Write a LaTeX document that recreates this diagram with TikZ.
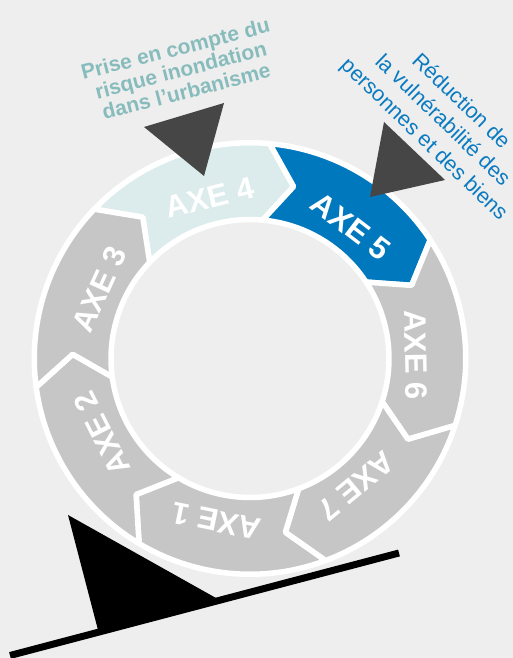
\documentclass[tikz,border=0pt]{standalone}
\usepackage{fontspec}
\setmainfont{Liberation Sans}
\usetikzlibrary{calc}
\definecolor{bgGray}{HTML}{EEEEEE}
\definecolor{segGray}{HTML}{C6C6C6}
\definecolor{segLight}{HTML}{DCEBEB}
\definecolor{segBlue}{HTML}{0078BE}
\definecolor{triDark}{HTML}{464646}
\definecolor{txtTeal}{HTML}{88BCBC}
\definecolor{txtBlue}{HTML}{0A7BC1}
\begin{document}
\begin{tikzpicture}[x=1pt,y=1pt,
  segment/.style={draw=white, line width=5.5pt, line join=round},
  axelabel/.style={text=white, font=\fontsize{31}{31}\selectfont\bfseries, inner sep=0pt},
  pointer/.style={fill=triDark},
]
\fill[bgGray] (0,0) rectangle (513,658);
\useasboundingbox (0,0) rectangle (513,658);
\coordinate (C) at (250,299.5);
\def\Ro{215.75}
\def\Ri{139}
\def\Rm{177.4}
\def\dl{9}
\foreach \j/\col in {0/segLight, 1/segBlue, 2/segGray, 3/segGray, 4/segGray, 5/segGray, 6/segGray}{
  \pgfmathsetmacro\sa{136.2-51.4286*\j}
  \pgfmathsetmacro\sb{\sa-51.4286}
  \pgfmathsetmacro\bt{\sb-\dl}
  \pgfmathsetmacro\at{\sa-\dl}
  \path[segment, fill=\col, shift={(C)}] (\sa:\Ro) arc[start angle=\sa, end angle=\sb, radius=\Ro]
    -- (\bt:\Rm) -- (\sb:\Ri) arc[start angle=\sb, end angle=\sa, radius=\Ri] -- (\at:\Rm) -- cycle;
}
\foreach \j/\lab in {0/4, 1/5, 2/6, 3/7, 4/1, 5/2, 6/3}{
  \pgfmathsetmacro\ph{136.2-51.4286*\j-32.2}
  \pgfmathsetmacro\rot{\ph-90}
  \node[axelabel, rotate=\rot] (axe\lab) at ($(C)+(\ph:166)$) {AXE \lab};
}
\node[text=txtTeal, font=\fontsize{21}{22}\selectfont\bfseries, align=center, rotate=14.4, inner sep=0pt] (t4) at (180.8,588.1) {Prise en compte du\\risque inondation\\dans l’urbanisme};
\node[text=txtBlue, font=\fontsize{21.5}{26.5}\selectfont, align=center, rotate=-44, inner sep=0pt] (t5) at (442,537) {Réduction de\\la vulnérabilité des\\personnes et des biens};
\fill[pointer] (144,531) -- (224,555) -- (204,482) -- cycle;
\fill[pointer] (384,536) -- (445,478) -- (370,461) -- cycle;
\fill[black] (68,143) -- (216,60) -- (98,28) -- cycle;
\coordinate (L1) at (10,2.5);
\coordinate (L2) at (399,105);
\draw[line width=7pt] (L1) -- (L2);
\end{tikzpicture}
\end{document}
